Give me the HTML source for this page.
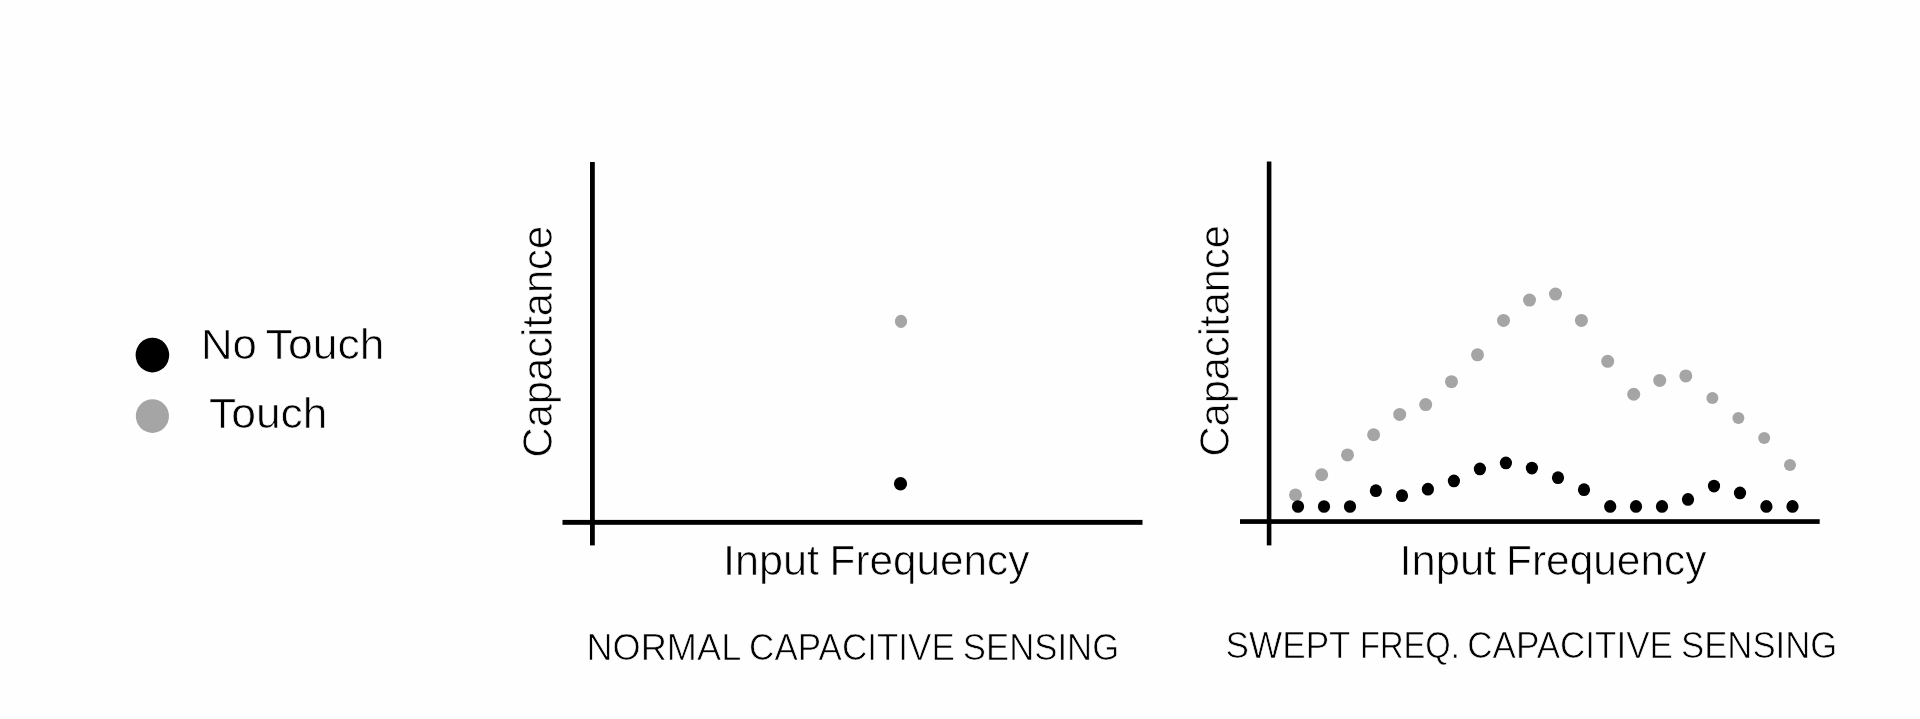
<!DOCTYPE html>
<html><head><meta charset="utf-8"><title>Capacitive sensing</title>
<style>
html,body{margin:0;padding:0;}
body{width:1920px;height:719px;background:#fefefe;position:relative;overflow:hidden;font-family:"Liberation Sans",sans-serif;}
svg{position:absolute;left:0;top:0;}
#txt{position:absolute;left:0;top:0;width:1920px;height:719px;will-change:transform;}
.t{position:absolute;left:0;top:0;white-space:nowrap;line-height:1;color:#000;transform-origin:0 0;font-family:"Liberation Sans",sans-serif;-webkit-text-stroke:0.7px #fefefe;}
</style></head><body>
<svg width="1920" height="719" viewBox="0 0 1920 719">
<rect x="590" y="162" width="4.8" height="383.4" fill="#000"/>
<rect x="562.5" y="519.9" width="580" height="4.9" fill="#000"/>
<rect x="1266.8" y="161.5" width="4.6" height="383.9" fill="#000"/>
<rect x="1240" y="519.2" width="579.7" height="4.7" fill="#000"/>
<ellipse cx="152.4" cy="355.1" rx="16.8" ry="17.3" fill="#000"/>
<ellipse cx="152.4" cy="416.1" rx="16.6" ry="16.8" fill="#a5a5a5"/>
<ellipse cx="901" cy="321.3" rx="6.1" ry="6.6" fill="#a5a5a5"/>
<ellipse cx="900.5" cy="483.8" rx="6.6" ry="6.8" fill="#000"/>
<circle cx="1295.50" cy="494.95" r="6.5" fill="#a5a5a5"/>
<circle cx="1321.70" cy="474.75" r="6.5" fill="#a5a5a5"/>
<circle cx="1347.50" cy="454.95" r="6.5" fill="#a5a5a5"/>
<circle cx="1373.60" cy="434.75" r="6.5" fill="#a5a5a5"/>
<circle cx="1399.70" cy="414.45" r="6.5" fill="#a5a5a5"/>
<circle cx="1425.70" cy="404.55" r="6.5" fill="#a5a5a5"/>
<circle cx="1451.50" cy="381.65" r="6.5" fill="#a5a5a5"/>
<circle cx="1477.50" cy="354.85" r="6.5" fill="#a5a5a5"/>
<circle cx="1503.50" cy="320.45" r="6.5" fill="#a5a5a5"/>
<circle cx="1529.50" cy="300.05" r="6.5" fill="#a5a5a5"/>
<circle cx="1555.50" cy="294.05" r="6.5" fill="#a5a5a5"/>
<circle cx="1581.40" cy="320.45" r="6.5" fill="#a5a5a5"/>
<circle cx="1607.70" cy="361.35" r="6.5" fill="#a5a5a5"/>
<circle cx="1633.70" cy="394.25" r="6.5" fill="#a5a5a5"/>
<circle cx="1659.70" cy="380.45" r="6.5" fill="#a5a5a5"/>
<circle cx="1685.80" cy="375.95" r="6.5" fill="#a5a5a5"/>
<circle cx="1712.40" cy="398.05" r="6.0" fill="#a5a5a5"/>
<circle cx="1738.40" cy="418.05" r="6.0" fill="#a5a5a5"/>
<circle cx="1764.20" cy="438.05" r="6.0" fill="#a5a5a5"/>
<circle cx="1790.00" cy="464.95" r="6.0" fill="#a5a5a5"/>
<ellipse cx="1298.00" cy="506.50" rx="6.1" ry="6.35" fill="#000"/>
<ellipse cx="1324.00" cy="506.50" rx="6.1" ry="6.35" fill="#000"/>
<ellipse cx="1350.00" cy="506.50" rx="6.1" ry="6.35" fill="#000"/>
<ellipse cx="1375.90" cy="490.70" rx="6.1" ry="6.35" fill="#000"/>
<ellipse cx="1402.00" cy="495.70" rx="6.1" ry="6.35" fill="#000"/>
<ellipse cx="1427.90" cy="489.20" rx="6.1" ry="6.35" fill="#000"/>
<ellipse cx="1453.90" cy="480.90" rx="6.1" ry="6.35" fill="#000"/>
<ellipse cx="1479.90" cy="468.90" rx="6.1" ry="6.35" fill="#000"/>
<ellipse cx="1505.90" cy="462.90" rx="6.1" ry="6.35" fill="#000"/>
<ellipse cx="1531.90" cy="468.10" rx="6.1" ry="6.35" fill="#000"/>
<ellipse cx="1558.00" cy="477.70" rx="6.1" ry="6.35" fill="#000"/>
<ellipse cx="1584.00" cy="489.70" rx="6.1" ry="6.35" fill="#000"/>
<ellipse cx="1610.20" cy="506.40" rx="6.1" ry="6.35" fill="#000"/>
<ellipse cx="1636.00" cy="506.40" rx="6.1" ry="6.35" fill="#000"/>
<ellipse cx="1662.00" cy="506.40" rx="6.1" ry="6.35" fill="#000"/>
<ellipse cx="1688.00" cy="499.40" rx="6.1" ry="6.35" fill="#000"/>
<ellipse cx="1714.00" cy="486.10" rx="6.1" ry="6.35" fill="#000"/>
<ellipse cx="1740.00" cy="492.90" rx="6.1" ry="6.35" fill="#000"/>
<ellipse cx="1766.40" cy="506.40" rx="6.1" ry="6.35" fill="#000"/>
<ellipse cx="1792.50" cy="506.40" rx="6.1" ry="6.35" fill="#000"/>
</svg>
<div id="txt">
<div class="t" style="font-size:42.500px;transform:translate(201.01px,323.94px) scaleX(1.0295)">No</div>
<div class="t" style="font-size:42.500px;transform:translate(265.59px,323.94px) scaleX(1.0491)">Touch</div>
<div class="t" style="font-size:42.500px;transform:translate(208.89px,392.94px) scaleX(1.0468)">Touch</div>
<div class="t" style="font-size:42.500px;transform:translate(722.88px,539.94px) scaleX(1.0176)">Input</div>
<div class="t" style="font-size:42.500px;transform:translate(829.54px,539.94px) scaleX(0.9954)">Frequency</div>
<div class="t" style="font-size:42.500px;transform:translate(1399.44px,539.94px) scaleX(1.0254)">Input</div>
<div class="t" style="font-size:42.500px;transform:translate(1506.03px,539.94px) scaleX(0.9977)">Frequency</div>
<div class="t" style="font-size:37.000px;transform:translate(586.45px,628.94px) scaleX(0.9780)">NORMAL</div>
<div class="t" style="font-size:37.000px;transform:translate(749.12px,628.94px) scaleX(0.9467)">CAPACITIVE</div>
<div class="t" style="font-size:37.000px;transform:translate(962.87px,628.94px) scaleX(0.9388)">SENSING</div>
<div class="t" style="font-size:37.000px;transform:translate(1225.60px,626.94px) scaleX(0.9496)">SWEPT</div>
<div class="t" style="font-size:37.000px;transform:translate(1359.92px,626.94px) scaleX(0.8840)">FREQ.</div>
<div class="t" style="font-size:37.000px;transform:translate(1467.27px,626.94px) scaleX(0.9465)">CAPACITIVE</div>
<div class="t" style="font-size:37.000px;transform:translate(1681.02px,626.94px) scaleX(0.9388)">SENSING</div>
<div class="t" style="font-size:42.500px;transform:translate(516.94px,457.45px) rotate(-90deg) scaleX(0.9801)">Capacitance</div>
<div class="t" style="font-size:42.500px;transform:translate(1193.94px,456.55px) rotate(-90deg) scaleX(0.9801)">Capacitance</div>
</div>
</body></html>
